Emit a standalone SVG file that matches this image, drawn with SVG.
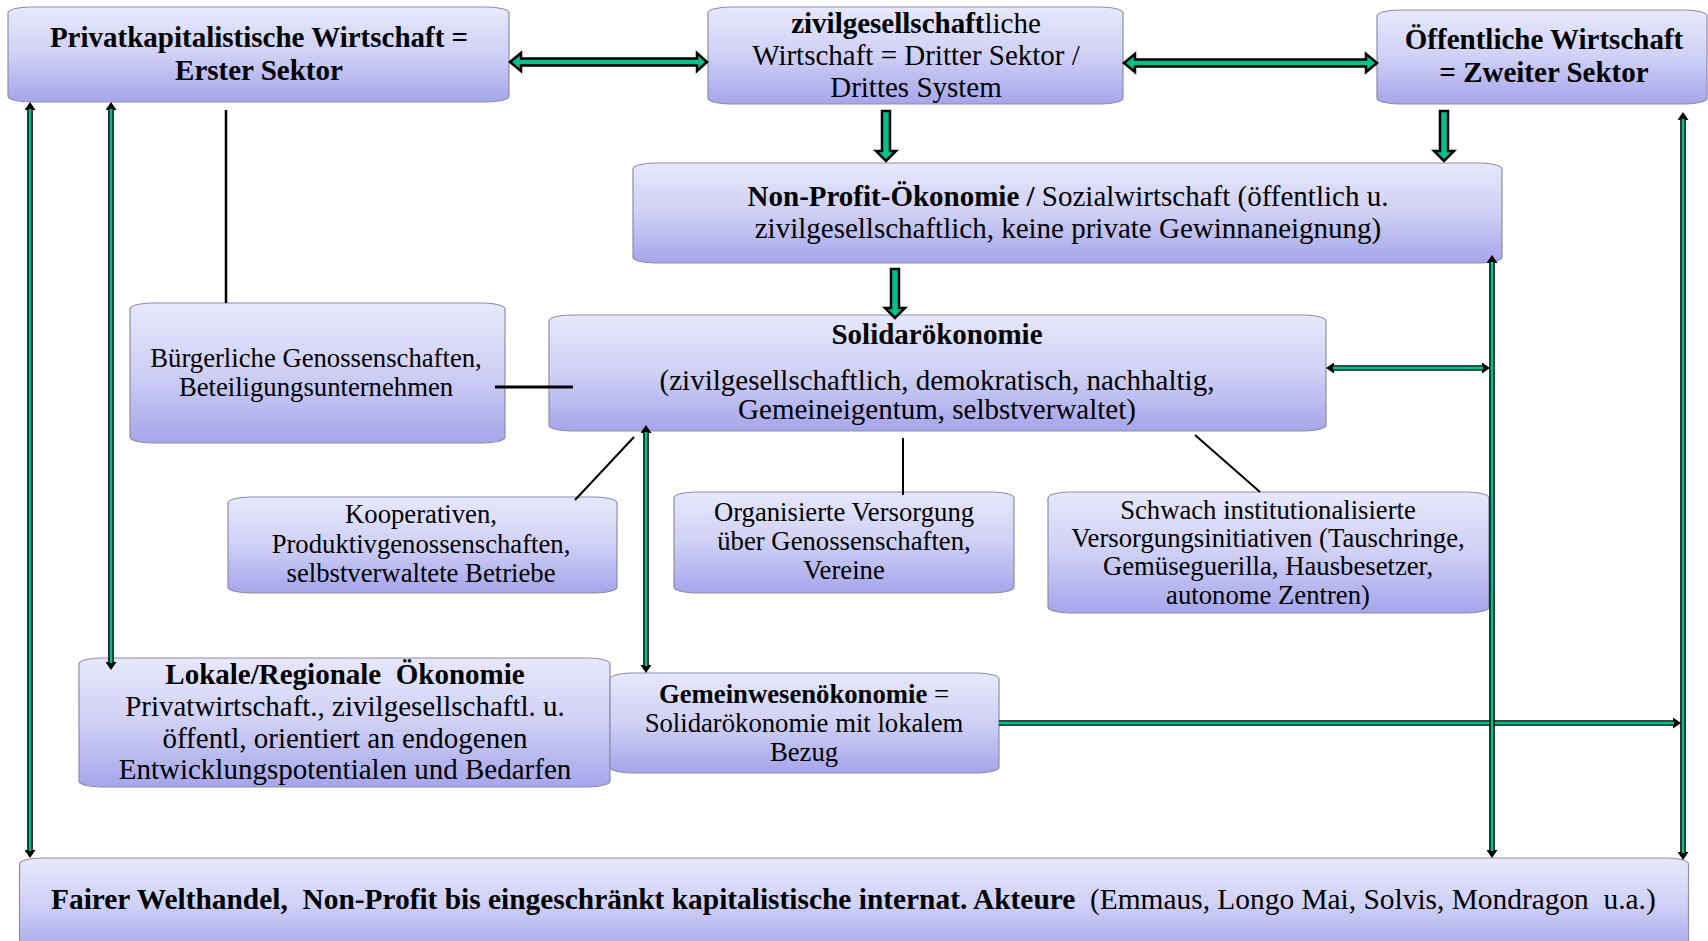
<svg xmlns="http://www.w3.org/2000/svg" width="1708" height="941" viewBox="0 0 1708 941">
<style>
.box{fill:url(#bg);stroke:#8c8da6;stroke-width:1.2}
text{font-family:"Liberation Serif","Times New Roman",serif;fill:#000;text-anchor:middle}
.b{font-weight:bold}
.f29{font-size:29px}
.f27{font-size:26.7px}
.pre{white-space:pre}
.thin-out{stroke:#000;stroke-width:5.6;fill:none}
.thin-in{stroke:#00c08e;stroke-width:2.8;fill:none}
.blk{fill:#00c08e;stroke:#000;stroke-width:2.5;stroke-linejoin:miter}
.plain{stroke:#000;fill:none}
</style>
<defs>
<linearGradient id="bg" x1="0" y1="0" x2="0" y2="1">
<stop offset="0" stop-color="#e7e8fb"/>
<stop offset="0.5" stop-color="#cfd0f5"/>
<stop offset="1" stop-color="#a5a5eb"/>
</linearGradient>
<marker id="ah" viewBox="0 0 8 11" refX="3" refY="5.5" markerWidth="8" markerHeight="11" markerUnits="userSpaceOnUse" orient="auto-start-reverse">
<path d="M0,0 L8,5.5 L0,11 z" fill="#000"/>
</marker>
</defs>

<g id="n-privat">
<rect class="box" x="8" y="7" width="501" height="95" rx="22" ry="6"/>
<text class="f29 b" x="259" y="47">Privatkapitalistische Wirtschaft =</text>
<text class="f29 b" x="259" y="80">Erster Sektor</text>
</g>
<g id="n-zivil">
<rect class="box" x="708" y="7" width="415" height="97" rx="22" ry="6"/>
<text class="f29" x="916" y="33"><tspan class="b">zivilgesellschaft</tspan>liche</text>
<text class="f29" x="916" y="65">Wirtschaft = Dritter Sektor /</text>
<text class="f29" x="916" y="97">Drittes System</text>
</g>
<g id="n-oeffentlich">
<rect class="box" x="1377" y="10" width="330" height="94" rx="22" ry="6"/>
<text class="f29 b" x="1544" y="49">Öffentliche Wirtschaft</text>
<text class="f29 b" x="1544" y="82">= Zweiter Sektor</text>
</g>
<g id="n-nonprofit">
<rect class="box" x="633" y="163" width="869" height="100" rx="22" ry="6"/>
<text class="f29" x="1068" y="206"><tspan class="b">Non-Profit-Ökonomie / </tspan>Sozialwirtschaft (öffentlich u.</text>
<text class="f29" x="1068" y="238">zivilgesellschaftlich, keine private Gewinnaneignung)</text>
</g>
<g id="n-buergerlich">
<rect class="box" x="130" y="303" width="375" height="140" rx="22" ry="6"/>
<text class="f27" x="316" y="367">Bürgerliche Genossenschaften,</text>
<text class="f27" x="316" y="396">Beteiligungsunternehmen</text>
</g>
<g id="n-solidar">
<rect class="box" x="549" y="315" width="777" height="116" rx="22" ry="6"/>
<text class="f29 b" x="937" y="344">Solidarökonomie</text>
<text class="f29" x="937" y="390">(zivilgesellschaftlich, demokratisch, nachhaltig,</text>
<text class="f29" x="937" y="419">Gemeineigentum, selbstverwaltet)</text>
</g>
<g id="n-kooperativen">
<rect class="box" x="228" y="497" width="389" height="96" rx="22" ry="6"/>
<text class="f27" x="421" y="523">Kooperativen,</text>
<text class="f27" x="421" y="553">Produktivgenossenschaften,</text>
<text class="f27" x="421" y="582">selbstverwaltete Betriebe</text>
</g>
<g id="n-organisiert">
<rect class="box" x="674" y="492" width="340" height="101" rx="22" ry="6"/>
<text class="f27" x="844" y="521">Organisierte Versorgung</text>
<text class="f27" x="844" y="550">über Genossenschaften,</text>
<text class="f27" x="844" y="579">Vereine</text>
</g>
<g id="n-schwach">
<rect class="box" x="1048" y="492" width="441" height="121" rx="22" ry="6"/>
<text class="f27" x="1268" y="519">Schwach institutionalisierte</text>
<text class="f27" x="1268" y="547">Versorgungsinitiativen (Tauschringe,</text>
<text class="f27" x="1268" y="575">Gemüseguerilla, Hausbesetzer,</text>
<text class="f27" x="1268" y="604">autonome Zentren)</text>
</g>
<g id="n-lokal">
<rect class="box" x="79" y="658" width="531" height="129" rx="22" ry="6"/>
<text class="f29 b pre" x="345" y="684" xml:space="preserve">Lokale/Regionale  Ökonomie</text>
<text class="f29" x="345" y="716">Privatwirtschaft., zivilgesellschaftl. u.</text>
<text class="f29" x="345" y="748">öffentl, orientiert an endogenen</text>
<text class="f29" x="345" y="779">Entwicklungspotentialen und Bedarfen</text>
</g>
<g id="n-gemeinwesen">
<rect class="box" x="610" y="673" width="389" height="100" rx="22" ry="6"/>
<text class="f27" x="804" y="703"><tspan class="b">Gemeinwesenökonomie</tspan> =</text>
<text class="f27" x="804" y="732">Solidarökonomie mit lokalem</text>
<text class="f27" x="804" y="761">Bezug</text>
</g>
<g id="n-fairer">
<rect class="box" x="19.5" y="858" width="1669" height="95" rx="22" ry="6"/>
<text class="pre" x="51" y="909" style="text-anchor:start;font-size:29.4px" xml:space="preserve"><tspan class="b">Fairer Welthandel,  Non-Profit bis eingeschränkt kapitalistische internat. Akteure</tspan>  (Emmaus, Longo Mai, Solvis, Mondragon  u.a.)</text>
</g>

<g id="connectors">
<line class="plain" x1="226" y1="110" x2="226" y2="303" stroke-width="2.5"/>
<line class="plain" x1="495" y1="387" x2="573" y2="387" stroke-width="3"/>
<line class="plain" x1="634" y1="437" x2="575" y2="500" stroke-width="2"/>
<line class="plain" x1="903" y1="438" x2="903" y2="495" stroke-width="2"/>
<line class="plain" x1="1195" y1="435" x2="1260" y2="492" stroke-width="2"/>

<polygon class="blk" points="510,62 521,53 521,58.5 697,58.5 697,53 707,62 697,71 697,65.5 521,65.5 521,71"/>
<polygon class="blk" points="1124,63 1135,54 1135,59.5 1366,59.5 1366,54 1377,63 1366,72 1366,66.5 1135,66.5 1135,72"/>
<polygon class="blk" points="882,111 890,111 890,151 896,151 886,161 876,151 882,151"/>
<polygon class="blk" points="891,269 899,269 899,308 905,308 895,318 885,308 891,308"/>
<polygon class="blk" points="1440,111 1448,111 1448,151 1454,151 1444,161 1434,151 1440,151"/>

<line class="thin-out" x1="1331" y1="368" x2="1485" y2="368" marker-start="url(#ah)" marker-end="url(#ah)"/>
<line class="thin-in" x1="1333" y1="368" x2="1483" y2="368"/>
<line class="thin-out" x1="999" y1="723" x2="1676" y2="723" marker-end="url(#ah)"/>
<line class="thin-in" x1="999" y1="723" x2="1674" y2="723"/>

<line class="thin-out" x1="30" y1="107" x2="30" y2="853" marker-start="url(#ah)" marker-end="url(#ah)"/>
<line class="thin-in" x1="30" y1="109" x2="30" y2="851"/>
<line class="thin-out" x1="111" y1="107" x2="111" y2="665" marker-start="url(#ah)" marker-end="url(#ah)"/>
<line class="thin-in" x1="111" y1="109" x2="111" y2="663"/>
<line class="thin-out" x1="646" y1="430" x2="646" y2="668" marker-start="url(#ah)" marker-end="url(#ah)"/>
<line class="thin-in" x1="646" y1="432" x2="646" y2="666"/>
<line class="thin-out" x1="1492" y1="260" x2="1492" y2="853" marker-start="url(#ah)" marker-end="url(#ah)"/>
<line class="thin-in" x1="1492" y1="262" x2="1492" y2="851"/>
<line class="thin-out" x1="1683" y1="117" x2="1683" y2="855" marker-start="url(#ah)" marker-end="url(#ah)"/>
<line class="thin-in" x1="1683" y1="119" x2="1683" y2="853"/>
</g>
</svg>
